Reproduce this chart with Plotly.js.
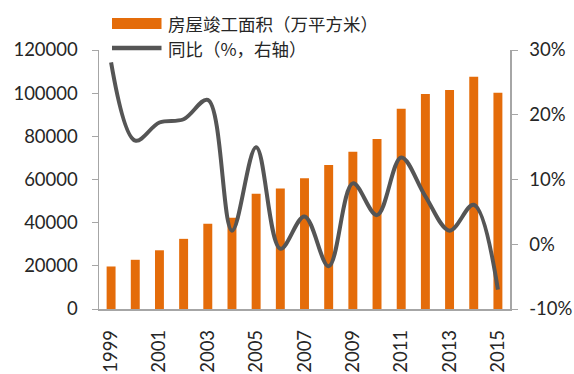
<!DOCTYPE html>
<html>
<head>
<meta charset="utf-8">
<script src="https://cdn.plot.ly/plotly-3.0.1.min.js"></script>
<style>html,body{margin:0;padding:0;background:#fff;}#chart{width:574px;height:374px;}</style>
</head>
<body>
<div id="chart"></div>
<script>
const years = [1999,2000,2001,2002,2003,2004,2005,2006,2007,2008,2009,2010,2011,2012,2013,2014,2015];
const area = [19700,22800,27200,32500,39500,42300,53400,55800,60600,66700,72800,78800,92800,99600,101500,107600,100200];
const yoy = [28.1,16.0,18.8,19.3,22.3,2.1,15.0,-0.7,4.3,-3.4,9.4,4.5,13.4,7.4,2.1,6.1,-7.0];
const seriesNames = ['房屋竣工面积（万平方米）','同比（%，右轴）'];
const leftTicks = [0,20000,40000,60000,80000,100000,120000];
const rightTicks = [-10,0,10,20,30];

const font = 'Lato, sans-serif';
const cjk = 'Noto Sans CJK SC, sans-serif';
const orange = '#E46C0A';
const grey = '#555555';
const axisCol = '#A6A6A6';
const txt = '#262626';

const traces = [
  {type:'bar', x:years, y:area, name:seriesNames[0], marker:{color:orange, line:{width:0}}, width:0.37, yaxis:'y'},
  {type:'scatter', mode:'lines', x:years, y:yoy, name:seriesNames[1], line:{color:grey, width:4, shape:'spline', smoothing:1}, yaxis:'y2'}
];

const layout = {
  width:574, height:374,
  margin:{l:99, r:64, t:50, b:65},
  paper_bgcolor:'#fff', plot_bgcolor:'rgba(0,0,0,0)',
  showlegend:false,
  font:{family:font, size:18.5, color:txt},
  xaxis:{range:[1998.5,2015.5], tickmode:'linear', tick0:1999, dtick:2, tickangle:-90,
    showgrid:false, zeroline:false, showline:true, linecolor:axisCol, linewidth:1.5,
    ticks:'', ticklabelstandoff:12, tickfont:{family:font, size:18.5, color:txt}},
  yaxis:{range:[0,120000], tickvals:leftTicks, ticktext:leftTicks.map(String), showgrid:false, zeroline:false,
    showline:true, linecolor:axisCol, linewidth:1.5, ticks:'outside', ticklen:6, tickcolor:axisCol,
    ticklabelstandoff:10, tickfont:{family:font, size:18.5, color:txt}},
  yaxis2:{range:[-10,30], overlaying:'y', side:'right', tickvals:rightTicks, ticktext:rightTicks.map(v=>v+'%'),
    showgrid:false, zeroline:false, showline:true, linecolor:axisCol, linewidth:1.5, ticks:'outside', ticklen:6, tickcolor:axisCol,
    ticklabelstandoff:8, tickfont:{family:font, size:18.5, color:txt}},
  shapes:[
    {type:'rect', xref:'paper', yref:'paper', x0:(112-99)/411, x1:(161.5-99)/411, y0:(308.5-28.5)/259, y1:(308.5-17.5)/259, fillcolor:orange, line:{width:0}},
    {type:'line', xref:'paper', yref:'paper', x0:(112-99)/411, x1:(161.5-99)/411, y0:(308.5-47.5)/259, y1:(308.5-47.5)/259, line:{color:grey, width:4.5}}
  ],
  annotations:[
    {xref:'paper', yref:'paper', x:(166-99)/411, y:(308.5-23.5)/259, xanchor:'left', yanchor:'middle', text:seriesNames[0], showarrow:false, font:{family:cjk, size:17.5, color:txt}},
    {xref:'paper', yref:'paper', x:(166-99)/411, y:(308.5-48)/259, xanchor:'left', yanchor:'middle', text:seriesNames[1], showarrow:false, font:{family:cjk, size:17.5, color:txt}}
  ]
};

Plotly.newPlot('chart', traces, layout, {staticPlot:true, displayModeBar:false});
</script>
</body>
</html>
